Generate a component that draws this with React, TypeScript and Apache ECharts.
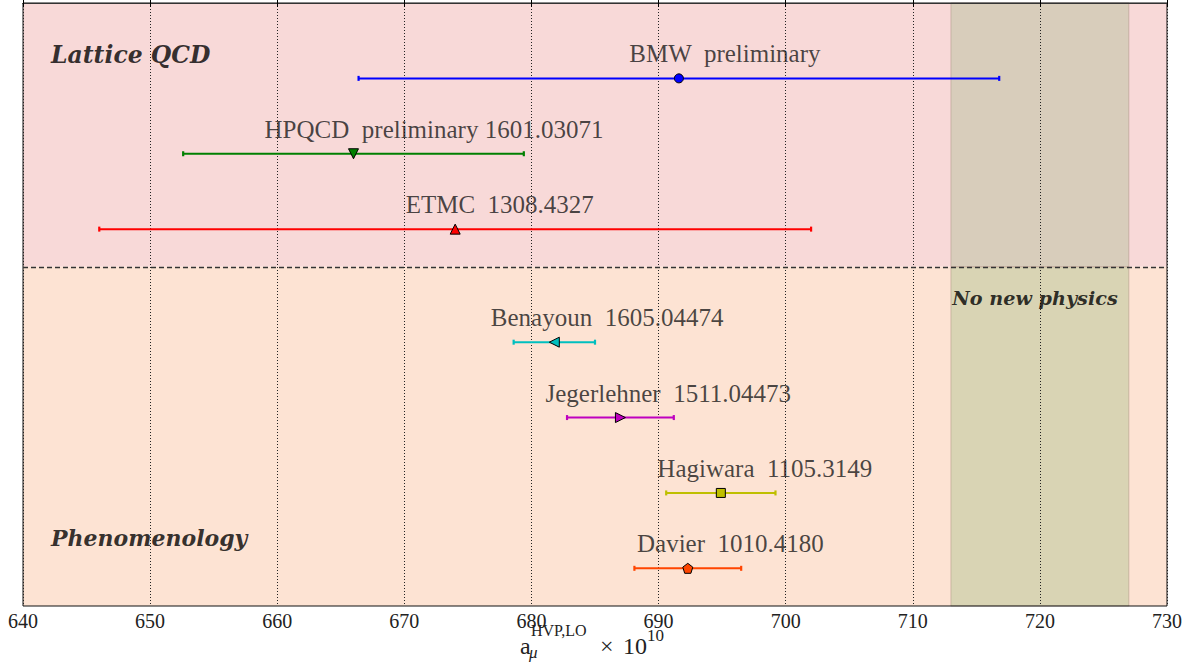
import React, { useEffect, useRef } from "react";
import * as echarts from "echarts";

// ---- data ----
const labels = [
  "BMW  preliminary",
  "HPQCD  preliminary 1601.03071",
  "ETMC  1308.4327",
  "Benayoun  1605.04474",
  "Jegerlehner  1511.04473",
  "Hagiwara  1105.3149",
  "Davier  1010.4180",
];
const centers = [691.6, 666.0, 674.0, 681.8, 687.0, 694.9, 692.3];
const errors = [25.2, 13.4, 28.0, 3.2, 4.2, 4.3, 4.2];
const rows = [1, 2, 3, 4.5, 5.5, 6.5, 7.5];
const labelShift = [-3.9, -7.0, -3.9, -5.0, -5.9, -5.0, -4.0];
const colors = ["#0000ff", "#008000", "#ff0000", "#00bfbf", "#bf00bf", "#bfbf00", "#ff4500"];
const PENTAGON = "path://M0,-1 L0.951,-0.309 L0.588,0.809 L-0.588,0.809 L-0.951,-0.309 Z";
const symbols = ["circle", "triangle", "triangle", "triangle", "triangle", "rect", PENTAGON];
const symbolRotations = [0, 180, 0, 90, -90, 0, 0];
const symbolSizes = [9, 10, 10, 10, 10, 9, 10];

const xMin = 640;
const xMax = 730;
const xTicks = [640, 650, 660, 670, 680, 690, 700, 710, 720, 730];
const yMin = 0;
const yMax = 8;
const separatorY = 3.5;
const regionRanges = [
  [0, 3.5],
  [3.5, 8],
];
const regionColors = ["#f8d9d8", "#fde3d3"];
const bandRange = [713, 727];
const bandColors = ["#d8cdbb", "#d9d4b4"];

const annotations = ["Lattice QCD", "Phenomenology", "No new physics"];
const annotationPos = [
  [642.2, 0.69],
  [642.2, 7.1],
  [713.1, 3.927],
];
const annotationSizes = [23.5, 22, 19.2];

export default function App() {
  const ref = useRef<HTMLDivElement>(null);

  useEffect(() => {
    if (!ref.current) return;
    const chart = echarts.init(ref.current, undefined, { renderer: "svg" });

    const bgData: number[][] = [];
    regionRanges.forEach((r, i) => {
      bgData.push([xMin, xMax, r[0], r[1], i, 0]);
      bgData.push([bandRange[0], bandRange[1], r[0], r[1], i, 1]);
    });

    const titleFont = "Liberation Serif";
    const option: any = {
      animation: false,
      textStyle: { fontFamily: "Liberation Serif" },
      grid: {
        left: 23,
        right: 30,
        top: 3,
        bottom: 62,
        show: true,
        borderColor: "#111",
        borderWidth: 1,
        backgroundColor: "transparent",
      },
      xAxis: [
        {
          type: "value",
          min: xMin,
          max: xMax,
          interval: 10,
          axisLine: { show: true, lineStyle: { color: "#000", width: 1 } },
          axisTick: { show: true, inside: true, length: 4, lineStyle: { color: "#000" } },
          axisLabel: {
            fontSize: 20,
            color: "#222",
            margin: 5,
            fontFamily: "Liberation Serif",
            formatter: (v: number) => (xTicks.includes(v) ? String(v) : ""),
          },
          splitLine: { show: true, lineStyle: { color: "#222", width: 1, type: [1, 2] } },
        },
        {
          type: "value",
          position: "top",
          min: xMin,
          max: xMax,
          interval: 10,
          axisLine: { show: true, lineStyle: { color: "#333", width: 1 } },
          axisTick: { show: true, inside: true, length: 4, lineStyle: { color: "#000" } },
          axisLabel: { show: false },
          splitLine: { show: false },
        },
      ],
      yAxis: {
        type: "value",
        min: yMin,
        max: yMax,
        inverse: true,
        show: false,
        splitLine: { show: false },
      },
      graphic: [
        { type: "text", x: 520, y: 646, style: { text: "a", fontSize: 24, fontFamily: titleFont, fill: "#222", verticalAlign: "middle" } },
        { type: "text", x: 531, y: 630, style: { text: "HVP,LO", fontSize: 16, fontFamily: titleFont, fill: "#222", verticalAlign: "middle" } },
        { type: "text", x: 529, y: 652, style: { text: "μ", fontSize: 17, fontStyle: "italic", fontFamily: titleFont, fill: "#222", verticalAlign: "middle" } },
        { type: "text", x: 600, y: 646, style: { text: "×", fontSize: 24, fontFamily: titleFont, fill: "#222", verticalAlign: "middle" } },
        { type: "text", x: 623, y: 646, style: { text: "10", fontSize: 24, fontFamily: titleFont, fill: "#222", verticalAlign: "middle" } },
        { type: "text", x: 647, y: 635, style: { text: "10", fontSize: 17, fontFamily: titleFont, fill: "#222", verticalAlign: "middle" } },
      ],
      series: [
        {
          type: "custom",
          name: "background",
          z: -1,
          silent: true,
          data: bgData,
          renderItem: (params: any, api: any) => {
            const x0 = api.value(0);
            const x1 = api.value(1);
            const y0 = api.value(2);
            const y1 = api.value(3);
            const region = api.value(4);
            const isBand = api.value(5) === 1;
            const p0 = api.coord([x0, y0]);
            const p1 = api.coord([x1, y1]);
            return {
              type: "rect",
              shape: {
                x: Math.min(p0[0], p1[0]),
                y: Math.min(p0[1], p1[1]),
                width: Math.abs(p1[0] - p0[0]),
                height: Math.abs(p1[1] - p0[1]),
              },
              style: isBand
                ? { fill: bandColors[region], stroke: "rgba(150,115,105,0.35)", lineWidth: 1 }
                : { fill: regionColors[region] },
            };
          },
        },
        {
          type: "custom",
          name: "errorbars",
          z: 3,
          data: centers.map((c, i) => [c, errors[i], rows[i]]),
          renderItem: (params: any, api: any) => {
            const c = api.value(0);
            const e = api.value(1);
            const y = api.value(2);
            const a = api.coord([c - e, y]);
            const b = api.coord([c + e, y]);
            const col = colors[params.dataIndex];
            const cap = 2.5;
            return {
              type: "group",
              children: [
                { type: "line", shape: { x1: a[0], y1: a[1], x2: b[0], y2: b[1] }, style: { stroke: col, lineWidth: 2 } },
                { type: "line", shape: { x1: a[0], y1: a[1] - cap, x2: a[0], y2: a[1] + cap }, style: { stroke: col, lineWidth: 2.2 } },
                { type: "line", shape: { x1: b[0], y1: b[1] - cap, x2: b[0], y2: b[1] + cap }, style: { stroke: col, lineWidth: 2.2 } },
              ],
            };
          },
          markLine: {
            silent: true,
            symbol: "none",
            label: { show: false },
            lineStyle: { color: "#333", width: 1.3, type: [5, 3] },
            data: [{ yAxis: separatorY }],
          },
        },
        {
          type: "scatter",
          name: "markers",
          z: 4,
          data: centers.map((c, i) => ({
            value: [c, rows[i]],
            symbol: symbols[i],
            symbolRotate: symbolRotations[i],
            symbolSize: symbolSizes[i],
            itemStyle: { color: colors[i], borderColor: "#000", borderWidth: 1, opacity: 1 },
          })),
        },
        {
          type: "scatter",
          name: "labels",
          z: 5,
          silent: true,
          symbolSize: 0.1,
          itemStyle: { color: "transparent" },
          data: centers.map((c, i) => ({ value: [c + labelShift[i], rows[i]], name: labels[i] })),
          label: {
            show: true,
            position: "right",
            distance: 0,
            offset: [0, -24.5],
            formatter: (p: any) => p.name,
            fontSize: 25,
            color: "#1a1a1a",
            fontFamily: "Liberation Serif",
          },
        },
        {
          type: "scatter",
          name: "annotations",
          z: 5,
          silent: true,
          symbolSize: 0.1,
          itemStyle: { color: "transparent" },
          data: annotationPos.map((p, i) => ({
            value: p,
            name: annotations[i],
            label: { fontSize: annotationSizes[i] },
          })),
          label: {
            show: true,
            position: "right",
            distance: 0,
            formatter: (p: any) => p.name,
            color: "#000",
            fontFamily: "DejaVu Serif",
            fontWeight: "bold",
            fontStyle: "italic",
          },
        },
      ],
    };

    chart.setOption(option);
    return () => chart.dispose();
  }, []);

  return (
    <div
      ref={ref}
      style={{ position: "fixed", left: 0, top: 0, width: 1197, height: 668, background: "#fff" }}
    />
  );
}
